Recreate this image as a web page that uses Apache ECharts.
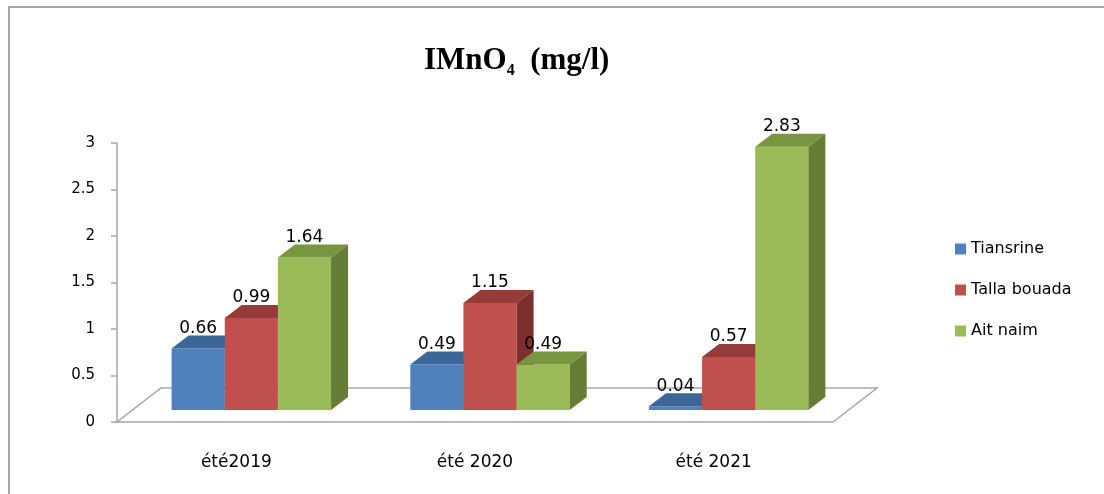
<!DOCTYPE html>
<html>
<head>
<meta charset="utf-8">
<script src="https://cdn.jsdelivr.net/npm/echarts@6/dist/echarts.min.js"></script>
<style>
  html, body { margin: 0; padding: 0; background: #ffffff; }
  #chart { width: 1104px; height: 494px; }
</style>
</head>
<body>
<div id="chart"></div>
<script>
// Chart data
const categories = ['été2019', 'été 2020', 'été 2021'];
const seriesNames = ['Tiansrine', 'Talla bouada', 'Ait naim'];
const tiansrine = [0.66, 0.49, 0.04];
const tallaBouada = [0.99, 1.15, 0.57];
const aitNaim = [1.64, 0.49, 2.83];
const yTicks = [0, 0.5, 1, 1.5, 2, 2.5, 3];

// Face colours: front, top, side
const palette = [
  { front: '#4F81BD', top: '#3D6698', side: '#385D8A' },
  { front: '#C0504D', top: '#953B39', side: '#7D2F2D' },
  { front: '#9BBB59', top: '#78953F', side: '#667D35' }
];

// Pseudo-3D geometry (pixels)
const FLOOR_DX = 44, FLOOR_DY = -34;   // floor depth
const BAR_OFF_X = 15, BAR_OFF_Y = -12; // bar front plane inside the floor
const BAR_DX = 17, BAR_DY = -13;       // bar depth
const GROUP = 0.668;                   // share of a category band used by the group

const FONT = 'DejaVu Sans';

function floorRenderer(params, api) {
  const cs = params.coordSys;
  const x = cs.x, y = cs.y + cs.height, w = cs.width;
  return {
    type: 'polygon',
    shape: { points: [[x, y], [x + w, y], [x + w + FLOOR_DX, y + FLOOR_DY], [x + FLOOR_DX, y + FLOOR_DY]] },
    style: { fill: '#ffffff', stroke: '#a6a6a6', lineWidth: 1.5 },
    silent: true
  };
}

function barRenderer(k) {
  const c = palette[k];
  return function (params, api) {
    const idx = api.value(0);
    const v = api.value(1);
    const base = api.coord([idx, 0]);
    const top = api.coord([idx, v]);
    const band = api.size([1, 0])[0];
    const w = band * GROUP / 3;
    const x0 = base[0] - band * GROUP / 2 + k * w + BAR_OFF_X;
    const x1 = x0 + w;
    const yb = base[1] + BAR_OFF_Y;
    const yt = top[1] + BAR_OFF_Y;
    return {
      type: 'group',
      children: [
        {
          type: 'rect',
          shape: { x: x0, y: yt, width: w, height: yb - yt },
          style: { fill: c.front }
        },
        {
          type: 'polygon',
          shape: { points: [[x0, yt], [x1, yt], [x1 + BAR_DX, yt + BAR_DY], [x0 + BAR_DX, yt + BAR_DY]] },
          style: { fill: c.top }
        },
        {
          type: 'polygon',
          shape: { points: [[x1, yt], [x1 + BAR_DX, yt + BAR_DY], [x1 + BAR_DX, yb + BAR_DY], [x1, yb]] },
          style: { fill: c.side }
        },
        {
          type: 'text',
          z2: 100,
          style: {
            x: x0 + w / 2,
            y: yt - 20,
            text: v.toFixed(2),
            align: 'center',
            verticalAlign: 'middle',
            fontFamily: FONT,
            fontSize: 17,
            fill: '#000000'
          }
        }
      ]
    };
  };
}

const valueSets = [tiansrine, tallaBouada, aitNaim];

const barSeries = valueSets.map(function (vals, k) {
  return {
    name: seriesNames[k],
    type: 'custom',
    renderItem: barRenderer(k),
    itemStyle: { color: palette[k].front },
    encode: { x: 0, y: 1 },
    data: vals.map(function (v, i) { return [i, v]; }),
    z: 3
  };
});

const chart = echarts.init(document.getElementById('chart'), null, { renderer: 'canvas' });

chart.setOption({
  animation: false,
  backgroundColor: '#ffffff',
  title: {
    text: '{a|IMnO}{s|4}{a|  (mg/l)}',
    left: 419,
    top: 38,
    textStyle: {
      rich: {
        a: { fontFamily: 'Liberation Serif', fontWeight: 'bold', fontSize: 31, lineHeight: 36, color: '#000000' },
        s: { fontFamily: 'Liberation Serif', fontWeight: 'bold', fontSize: 16, lineHeight: 16, verticalAlign: 'bottom', color: '#000000' }
      }
    }
  },
  graphic: [
    {
      type: 'rect',
      shape: { x: 9, y: 7, width: 1200, height: 600 },
      style: { fill: null, stroke: '#a6a6a6', lineWidth: 2 },
      silent: true
    }
  ],
  legend: {
    orient: 'vertical',
    left: 950,
    top: 235,
    icon: 'rect',
    itemWidth: 11,
    itemHeight: 11,
    itemGap: 23,
    data: seriesNames,
    textStyle: { fontFamily: FONT, fontSize: 16, lineHeight: 18, color: '#000000' }
  },
  grid: { left: 117, right: 271, top: 143, bottom: 72, containLabel: false },
  xAxis: {
    type: 'category',
    data: categories,
    boundaryGap: true,
    axisLine: { show: false },
    axisTick: { show: false },
    axisLabel: { margin: 32, fontFamily: FONT, fontSize: 17, color: '#000000' },
    splitLine: { show: false }
  },
  yAxis: {
    type: 'value',
    min: yTicks[0],
    max: yTicks[yTicks.length - 1],
    interval: yTicks[1] - yTicks[0],
    axisLine: { show: true, lineStyle: { color: '#a6a6a6', width: 1.5 } },
    axisTick: { show: true, inside: false, length: 6, lineStyle: { color: '#a6a6a6', width: 1.5 } },
    axisLabel: { margin: 22, fontFamily: FONT, fontSize: 15, color: '#000000' },
    splitLine: { show: false }
  },
  series: [
    {
      name: 'floor',
      type: 'custom',
      renderItem: floorRenderer,
      data: [[0, 0]],
      encode: { x: 0, y: 1 },
      silent: true,
      z: 1
    }
  ].concat(barSeries)
});
</script>
</body>
</html>
